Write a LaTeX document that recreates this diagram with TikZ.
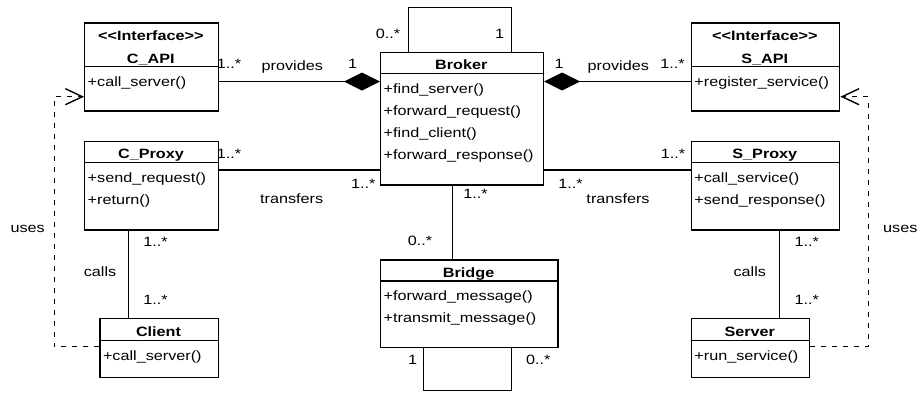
\documentclass[tikz,border=0pt]{standalone}
\usepackage{fontspec}
\setmainfont{Liberation Sans}[FakeStretch=1.2, Ligatures=TeXOff]
\usetikzlibrary{arrows.meta}
\begin{document}
\begin{tikzpicture}[x=1pt,y=-1pt,
  font=\fontsize{13.5pt}{16pt}\selectfont,
  line width=1.4pt,
  cls/.style={draw, line width=1.4pt, inner sep=0pt, anchor=north west},
  ttl/.style={anchor=base, inner sep=0pt, font=\fontsize{13.5pt}{16pt}\selectfont\bfseries},
  mth/.style={anchor=base west, inner sep=0pt},
  lbl/.style={anchor=base, inner sep=0pt},
  comp/.style={-{Diamond[length=36pt,width=18pt]}},
  dep/.style={dash pattern=on 5pt off 6pt, -{Straight Barb[length=17pt,width=16pt]}}]
\useasboundingbox (0,0) rectangle (920,394);

% ---------- classes ----------
% C_API
\node[cls, minimum width=133.7pt, minimum height=88pt] (capi) at (84,22.3) {};
\draw ([yshift=-44.4pt]capi.north west) -- ([yshift=-44.4pt]capi.north east);
\node[ttl] (capiS) at (150.8,40) {<<Interface>>};
\node[ttl] (capiT) at (150.8,63) {C\_API};
\node[mth] (capiM1) at (87,86) {+call\_server()};

% C_Proxy
\node[cls, minimum width=134pt, minimum height=88.6pt] (cproxy) at (84,140.7) {};
\draw ([yshift=-22pt]cproxy.north west) -- ([yshift=-22pt]cproxy.north east);
\node[ttl] (cproxyT) at (151,158.5) {C\_Proxy};
\node[mth] (cproxyM1) at (87,182.5) {+send\_request()};
\node[mth] (cproxyM2) at (87,204.5) {+return()};

% Client
\node[cls, minimum width=118.4pt, minimum height=59.3pt] (client) at (99.3,317.7) {};
\draw ([yshift=-23pt]client.north west) -- ([yshift=-23pt]client.north east);
\node[ttl] (clientT) at (158.5,336) {Client};
\node[mth] (clientM1) at (102.3,360) {+call\_server()};

% Broker
\node[cls, minimum width=162.7pt, minimum height=132.6pt] (broker) at (380,51.7) {};
\draw ([yshift=-22pt]broker.north west) -- ([yshift=-22pt]broker.north east);
\node[ttl] (brokerT) at (461.3,69.5) {Broker};
\node[mth] (brokerM1) at (383,93.5) {+find\_server()};
\node[mth] (brokerM2) at (383,115.5) {+forward\_request()};
\node[mth] (brokerM3) at (383,137.5) {+find\_client()};
\node[mth] (brokerM4) at (383,159.5) {+forward\_response()};

% Bridge
\node[cls, minimum width=177.3pt, minimum height=87.7pt] (bridge) at (380,259.3) {};
\draw ([yshift=-21.7pt]bridge.north west) -- ([yshift=-21.7pt]bridge.north east);
\node[ttl] (bridgeT) at (468.6,277) {Bridge};
\node[mth] (bridgeM1) at (383,300.5) {+forward\_message()};
\node[mth] (bridgeM2) at (383,322.5) {+transmit\_message()};

% S_API
\node[cls, minimum width=148.3pt, minimum height=88pt] (sapi) at (690.7,22.3) {};
\draw ([yshift=-44.4pt]sapi.north west) -- ([yshift=-44.4pt]sapi.north east);
\node[ttl] (sapiS) at (764.8,40) {<<Interface>>};
\node[ttl] (sapiT) at (764.8,63) {S\_API};
\node[mth] (sapiM1) at (693.7,86) {+register\_service()};

% S_Proxy
\node[cls, minimum width=148.3pt, minimum height=88.6pt] (sproxy) at (690.7,140.7) {};
\draw ([yshift=-22pt]sproxy.north west) -- ([yshift=-22pt]sproxy.north east);
\node[ttl] (sproxyT) at (764.8,158.5) {S\_Proxy};
\node[mth] (sproxyM1) at (693.7,182.5) {+call\_service()};
\node[mth] (sproxyM2) at (693.7,204.5) {+send\_response()};

% Server
\node[cls, minimum width=118.3pt, minimum height=59.3pt] (server) at (690.7,317.7) {};
\draw ([yshift=-23pt]server.north west) -- ([yshift=-23pt]server.north east);
\node[ttl] (serverT) at (749.8,336) {Server};
\node[mth] (serverM1) at (693.7,360) {+run\_service()};

% ---------- helper coordinates ----------
\coordinate (h81) at (0,81.5);
\coordinate (h170) at (0,170);
\coordinate (vL) at (128.7,0);
\coordinate (vR) at (779.3,0);
\coordinate (vB) at (452.3,0);
\coordinate (la) at (408.3,7.3);
\coordinate (lb) at (511.7,7.3);
\coordinate (ba) at (423.3,390.7);
\coordinate (bb) at (511.7,390.7);
\coordinate (ul1) at (54.3,346.7);
\coordinate (ul2) at (54.3,96.7);
\coordinate (ur1) at (868.3,346.7);
\coordinate (ur2) at (868.3,96.7);

% ---------- connectors ----------
\draw[comp] (capi.east |- h81) -- (broker.west |- h81);
\draw[comp] (sapi.west |- h81) -- (broker.east |- h81);
\draw (cproxy.east |- h170) -- (broker.west |- h170);
\draw (sproxy.west |- h170) -- (broker.east |- h170);
\draw (cproxy.south -| vL) -- (client.north -| vL);
\draw (sproxy.south -| vR) -- (server.north -| vR);
\draw (broker.south -| vB) -- (bridge.north -| vB);
\draw (broker.north -| la) -- (la) -- (lb) -- (broker.north -| lb);
\draw (bridge.south -| ba) -- (ba) -- (bb) -- (bridge.south -| bb);
\draw[dep] (client.west |- ul1) -- (ul1) -- (ul2) -- (capi.west |- ul2);
\draw[dep] (server.east |- ur1) -- (ur1) -- (ur2) -- (sapi.east |- ur2);

% ---------- labels ----------
\node[lbl] at (229,68.3) {1..*};
\node[lbl] at (292.3,70) {provides};
\node[lbl] at (352.5,68.3) {1};
\node[lbl] at (388,38) {0..*};
\node[lbl] at (499.5,38) {1};
\node[lbl] at (559,68.3) {1};
\node[lbl] at (618.3,70) {provides};
\node[lbl] at (672.5,68.3) {1..*};
\node[lbl] at (229,158.3) {1..*};
\node[lbl] at (363.3,188.3) {1..*};
\node[lbl] at (291.7,203.3) {transfers};
\node[lbl] at (673,158.3) {1..*};
\node[lbl] at (570.5,188.3) {1..*};
\node[lbl] at (618,203.3) {transfers};
\node[lbl] at (475.5,198.3) {1..*};
\node[lbl] at (420,245.7) {0..*};
\node[lbl] at (412.5,364) {1};
\node[lbl] at (538.3,364) {0..*};
\node[lbl] at (155.5,246.7) {1..*};
\node[lbl] at (100,276.7) {calls};
\node[lbl] at (155.5,304.3) {1..*};
\node[lbl] at (27.7,232.3) {uses};
\node[lbl] at (806.7,246.7) {1..*};
\node[lbl] at (749.8,276.7) {calls};
\node[lbl] at (806.7,304.3) {1..*};
\node[lbl] at (900.3,232.3) {uses};
\end{tikzpicture}
\end{document}
